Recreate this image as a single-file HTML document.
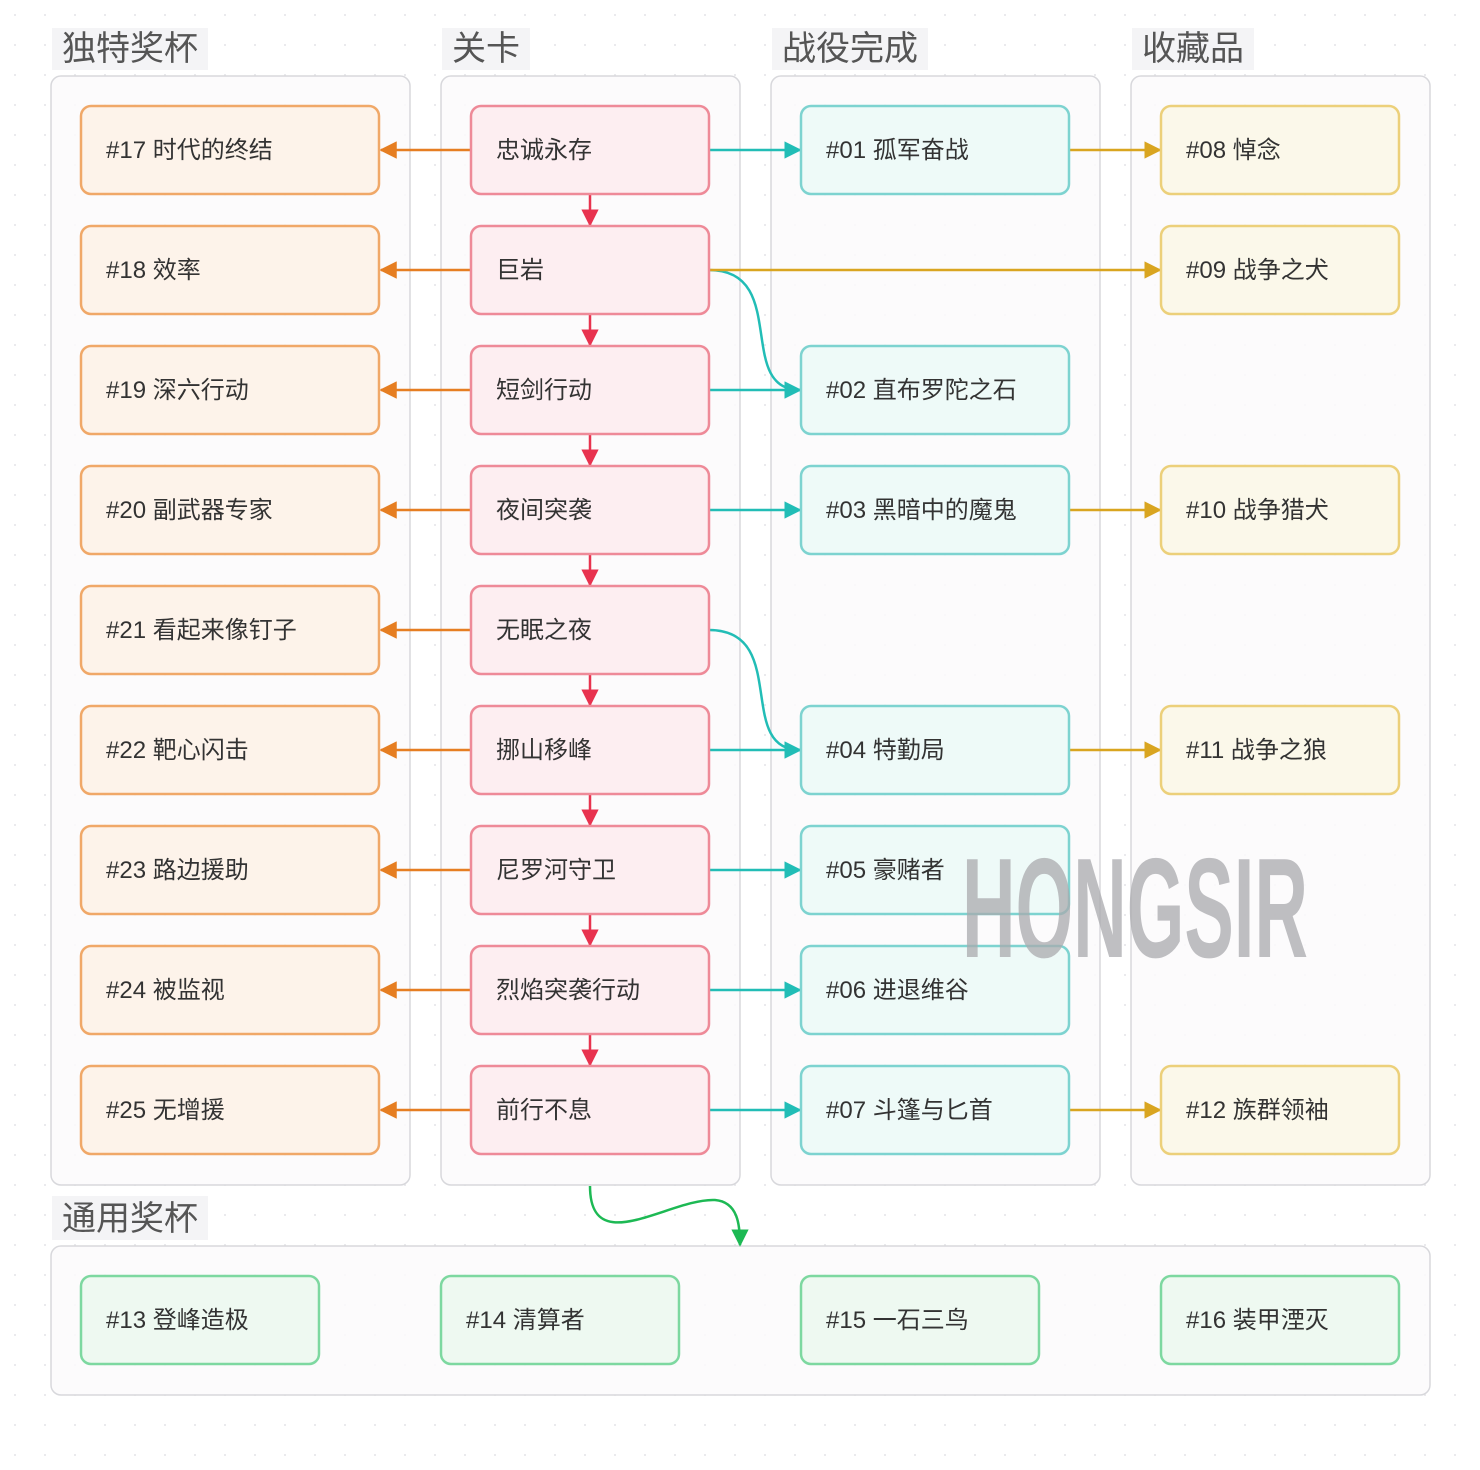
<!DOCTYPE html>
<html><head><meta charset="utf-8"><style>
html,body{margin:0;padding:0;background:#fff}
svg{display:block}
text{font-family:"Liberation Sans","Noto Sans CJK SC",sans-serif}
</style></head><body>
<svg width="1480" height="1470" viewBox="0 0 1480 1470" xmlns="http://www.w3.org/2000/svg">
<defs>
<pattern id="dots" width="30" height="30" patternUnits="userSpaceOnUse"><circle cx="15" cy="15" r="1" fill="#e4e4e8"/></pattern>
<marker id="ao" viewBox="0 0 10 10" refX="9" refY="5" markerWidth="7" markerHeight="7" orient="auto"><path d="M0,0L10,5L0,10z" fill="#e67e22"/></marker>
<marker id="ar" viewBox="0 0 10 10" refX="9" refY="5" markerWidth="7" markerHeight="7" orient="auto"><path d="M0,0L10,5L0,10z" fill="#e8334f"/></marker>
<marker id="at" viewBox="0 0 10 10" refX="9" refY="5" markerWidth="7" markerHeight="7" orient="auto"><path d="M0,0L10,5L0,10z" fill="#22bdb6"/></marker>
<marker id="ay" viewBox="0 0 10 10" refX="9" refY="5" markerWidth="7" markerHeight="7" orient="auto"><path d="M0,0L10,5L0,10z" fill="#d9a520"/></marker>
<marker id="ag" viewBox="0 0 10 10" refX="9" refY="5" markerWidth="7" markerHeight="7" orient="auto"><path d="M0,0L10,5L0,10z" fill="#1db954"/></marker>
</defs>
<rect width="1480" height="1470" fill="url(#dots)"/>
<g fill="#fbfafc" fill-opacity="0.85" stroke="#d8d8dc" stroke-width="1.5">
<rect x="51" y="76" width="359" height="1109" rx="10"/>
<rect x="441" y="76" width="299" height="1109" rx="10"/>
<rect x="771" y="76" width="329" height="1109" rx="10"/>
<rect x="1131" y="76" width="299" height="1109" rx="10"/>
<rect x="51" y="1246" width="1379" height="149" rx="10"/>
</g>
<g fill="#f4f4f6">
<rect x="52" y="28" width="156" height="42"/><rect x="442" y="28" width="88" height="42"/><rect x="772" y="28" width="156" height="42"/><rect x="1132" y="28" width="122" height="42"/><rect x="52" y="1196" width="156" height="44"/>
</g>
<g font-size="34" fill="#555">
<text x="62" y="60">独特奖杯</text><text x="452" y="60">关卡</text><text x="782" y="60">战役完成</text><text x="1142" y="60">收藏品</text><text x="62" y="1230">通用奖杯</text>
</g>
<g stroke-width="2.5" fill="none">
<g stroke="#e67e22" marker-end="url(#ao)">
<path d="M471 150H381"/><path d="M471 270H381"/><path d="M471 390H381"/><path d="M471 510H381"/><path d="M471 630H381"/><path d="M471 750H381"/><path d="M471 870H381"/><path d="M471 990H381"/><path d="M471 1110H381"/>
</g>
<g stroke="#e8334f" marker-end="url(#ar)">
<path d="M590 194V225"/><path d="M590 314V345"/><path d="M590 434V465"/><path d="M590 554V585"/><path d="M590 674V705"/><path d="M590 794V825"/><path d="M590 914V945"/><path d="M590 1034V1065"/>
</g>
<g stroke="#22bdb6" marker-end="url(#at)">
<path d="M709 150H800"/><path d="M709 390H800"/><path d="M709 510H800"/><path d="M709 750H800"/><path d="M709 870H800"/><path d="M709 990H800"/><path d="M709 1110H800"/>
<path d="M709 270C790 270 735 390 800 390"/><path d="M709 630C790 630 735 750 800 750"/>
</g>
<g stroke="#d9a520" marker-end="url(#ay)">
<path d="M1069 150H1160"/><path d="M709 270H1160"/><path d="M1069 510H1160"/><path d="M1069 750H1160"/><path d="M1069 1110H1160"/>
</g>
<path stroke="#1db954" marker-end="url(#ag)" d="M590 1186C590 1260 670 1198 715 1200C738 1202 740 1225 740 1245"/>
</g>
<g stroke-width="2.5" font-size="24">
<g fill="#fdf3ea" stroke="#f0a868">
<rect x="81" y="106" width="298" height="88" rx="10"/><rect x="81" y="226" width="298" height="88" rx="10"/><rect x="81" y="346" width="298" height="88" rx="10"/><rect x="81" y="466" width="298" height="88" rx="10"/><rect x="81" y="586" width="298" height="88" rx="10"/><rect x="81" y="706" width="298" height="88" rx="10"/><rect x="81" y="826" width="298" height="88" rx="10"/><rect x="81" y="946" width="298" height="88" rx="10"/><rect x="81" y="1066" width="298" height="88" rx="10"/>
</g>
<g fill="#fdeef1" stroke="#ee8a98">
<rect x="471" y="106" width="238" height="88" rx="10"/><rect x="471" y="226" width="238" height="88" rx="10"/><rect x="471" y="346" width="238" height="88" rx="10"/><rect x="471" y="466" width="238" height="88" rx="10"/><rect x="471" y="586" width="238" height="88" rx="10"/><rect x="471" y="706" width="238" height="88" rx="10"/><rect x="471" y="826" width="238" height="88" rx="10"/><rect x="471" y="946" width="238" height="88" rx="10"/><rect x="471" y="1066" width="238" height="88" rx="10"/>
</g>
<g fill="#eefaf8" stroke="#7dd3d0">
<rect x="801" y="106" width="268" height="88" rx="10"/><rect x="801" y="346" width="268" height="88" rx="10"/><rect x="801" y="466" width="268" height="88" rx="10"/><rect x="801" y="706" width="268" height="88" rx="10"/><rect x="801" y="826" width="268" height="88" rx="10"/><rect x="801" y="946" width="268" height="88" rx="10"/><rect x="801" y="1066" width="268" height="88" rx="10"/>
</g>
<g fill="#fbf8ea" stroke="#ecd07a">
<rect x="1161" y="106" width="238" height="88" rx="10"/><rect x="1161" y="226" width="238" height="88" rx="10"/><rect x="1161" y="466" width="238" height="88" rx="10"/><rect x="1161" y="706" width="238" height="88" rx="10"/><rect x="1161" y="1066" width="238" height="88" rx="10"/>
</g>
<g fill="#eef9f1" stroke="#7dd8a0">
<rect x="81" y="1276" width="238" height="88" rx="10"/><rect x="441" y="1276" width="238" height="88" rx="10"/><rect x="801" y="1276" width="238" height="88" rx="10"/><rect x="1161" y="1276" width="238" height="88" rx="10"/>
</g>
<g fill="#333" stroke="none">
<text x="106" y="158">#17 时代的终结</text><text x="106" y="278">#18 效率</text><text x="106" y="398">#19 深六行动</text><text x="106" y="518">#20 副武器专家</text><text x="106" y="638">#21 看起来像钉子</text><text x="106" y="758">#22 靶心闪击</text><text x="106" y="878">#23 路边援助</text><text x="106" y="998">#24 被监视</text><text x="106" y="1118">#25 无增援</text>
<text x="496" y="158">忠诚永存</text><text x="496" y="278">巨岩</text><text x="496" y="398">短剑行动</text><text x="496" y="518">夜间突袭</text><text x="496" y="638">无眠之夜</text><text x="496" y="758">挪山移峰</text><text x="496" y="878">尼罗河守卫</text><text x="496" y="998">烈焰突袭行动</text><text x="496" y="1118">前行不息</text>
<text x="826" y="158">#01 孤军奋战</text><text x="826" y="398">#02 直布罗陀之石</text><text x="826" y="518">#03 黑暗中的魔鬼</text><text x="826" y="758">#04 特勤局</text><text x="826" y="878">#05 豪赌者</text><text x="826" y="998">#06 进退维谷</text><text x="826" y="1118">#07 斗篷与匕首</text>
<text x="1186" y="158">#08 悼念</text><text x="1186" y="278">#09 战争之犬</text><text x="1186" y="518">#10 战争猎犬</text><text x="1186" y="758">#11 战争之狼</text><text x="1186" y="1118">#12 族群领袖</text>
<text x="106" y="1328">#13 登峰造极</text><text x="466" y="1328">#14 清算者</text><text x="826" y="1328">#15 一石三鸟</text><text x="1186" y="1328">#16 装甲湮灭</text>
</g>
</g>
<text x="0" y="0" transform="translate(962,957) scale(0.62,1)" font-family="'Liberation Sans Narrow','Liberation Sans',sans-serif" font-weight="bold" font-size="142" fill="#a9a9ad" fill-opacity="0.75" textLength="558" lengthAdjust="spacingAndGlyphs">HONGSIR</text>
</svg>
</body></html>
